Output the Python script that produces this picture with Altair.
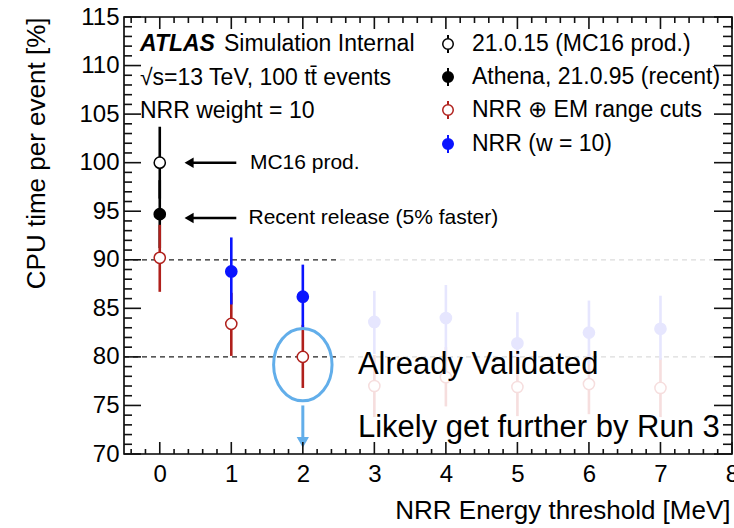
import altair as alt
import pandas as pd

FONT = "Liberation Sans"

# ---- data ----
thresholds = [0, 1, 2, 3, 4, 5, 6, 7]

mc16_x = [0]
mc16_y = [100.0]
mc16_lo = [96.3]
mc16_hi = [103.7]

recent_x = [0]
recent_y = [94.7]
recent_lo = [91.2]
recent_hi = [98.2]

em_x = thresholds
em_y = [90.2, 83.4, 80.0, 77.0, 77.9, 76.9, 77.2, 76.8]
em_lo = [86.7, 80.1, 76.8, 73.8, 74.9, 73.9, 74.1, 73.8]
em_hi = [93.6, 86.6, 83.3, 80.2, 81.0, 80.0, 80.3, 79.9]

w10_x = [1, 2, 3, 4, 5, 6, 7]
w10_y = [88.8, 86.2, 83.6, 84.0, 81.4, 82.5, 82.9]
w10_lo = [85.4, 83.0, 80.3, 80.6, 78.2, 79.2, 79.7]
w10_hi = [92.3, 89.5, 86.8, 87.4, 84.6, 85.8, 86.3]

validated_max = 2  # points beyond this are shown faded

ref_lines = [90, 80]

X_MIN, X_MAX = -0.5, 8
Y_MIN, Y_MAX = 70, 115

x_ticks_major = [0, 1, 2, 3, 4, 5, 6, 7, 8]
x_ticks_minor = [-0.4, -0.2,
                 0.2, 0.4, 0.6, 0.8, 1.2, 1.4, 1.6, 1.8, 2.2, 2.4, 2.6, 2.8,
                 3.2, 3.4, 3.6, 3.8, 4.2, 4.4, 4.6, 4.8, 5.2, 5.4, 5.6, 5.8,
                 6.2, 6.4, 6.6, 6.8, 7.2, 7.4, 7.6, 7.8]
y_ticks_major = [70, 75, 80, 85, 90, 95, 100, 105, 110, 115]
y_ticks_minor = [71, 72, 73, 74, 76, 77, 78, 79, 81, 82, 83, 84, 86, 87, 88, 89,
                 91, 92, 93, 94, 96, 97, 98, 99, 101, 102, 103, 104, 106, 107, 108, 109,
                 111, 112, 113, 114]

legend_labels = ["21.0.15 (MC16 prod.)", "Athena, 21.0.95 (recent)",
                 "NRR \u2295 EM range cuts", "NRR (w = 10)"]

W, H = 608, 437

xs = alt.Scale(domain=[X_MIN, X_MAX], nice=False, zero=False)
ys = alt.Scale(domain=[Y_MIN, Y_MAX], nice=False, zero=False)

xaxis = alt.Axis(values=x_ticks_major, format="d", title="NRR Energy threshold [MeV]",
                 titleFont=FONT, titleFontSize=26, titleFontWeight="normal", titleColor="black",
                 titleAnchor="end", titleX=W - 2, titleY=64, titleAlign="right", titleBaseline="alphabetic",
                 labelFont=FONT, labelFontSize=24, labelColor="black", labelPadding=8, labelFlush=False,
                 ticks=False, domain=False, grid=False)
yaxis = alt.Axis(values=y_ticks_major, format="d", title="CPU time per event [%]",
                 titleFont=FONT, titleFontSize=26, titleFontWeight="normal", titleColor="black",
                 titleX=-88, titleY=0, titleAngle=-90, titleAlign="right", titleBaseline="middle",
                 labelFont=FONT, labelFontSize=24, labelColor="black", labelPadding=5, labelFlush=False,
                 ticks=False, domain=False, grid=False)


def X(f):
    return alt.X(f, type="quantitative", scale=xs, axis=xaxis)


def Y(f):
    return alt.Y(f, type="quantitative", scale=ys, axis=yaxis)


layers = []

# reference dashed lines
df_dark = pd.DataFrame({"y": ref_lines, "x1": [X_MIN] * 2, "x2": [2.52] * 2})
df_light = pd.DataFrame({"y": ref_lines, "x1": [2.52] * 2, "x2": [X_MAX] * 2})
layers += [
    alt.Chart(df_light).mark_rule(color="#dcdcdc", strokeWidth=1.3, strokeDash=[5, 4]).encode(
        x=X("x1"), x2="x2", y=Y("y")),
    alt.Chart(df_dark).mark_rule(color="#222222", strokeWidth=1.3, strokeDash=[5, 4]).encode(
        x=X("x1"), x2="x2", y=Y("y")),
]


def frame(xv, yv, lo, hi):
    return pd.DataFrame({"x": xv, "y": yv, "lo": lo, "hi": hi})


em_df = frame(em_x, em_y, em_lo, em_hi)
w10_df = frame(w10_x, w10_y, w10_lo, w10_hi)
em_solid = em_df[em_df.x <= validated_max]
em_faded = em_df[em_df.x > validated_max]
w10_solid = w10_df[w10_df.x <= validated_max]
w10_faded = w10_df[w10_df.x > validated_max]
mc16_df = frame(mc16_x, mc16_y, mc16_lo, mc16_hi)
recent_df = frame(recent_x, recent_y, recent_lo, recent_hi)

RED = "#b0201c"
BLUE = "#0a14ff"
FRED = "#f6dede"
FBLUE = "#e6e6fe"


def err(df, color):
    return alt.Chart(df).mark_rule(color=color, strokeWidth=2.6).encode(x=X("x"), y=Y("lo"), y2="hi")


def pts(df, fill, stroke):
    return alt.Chart(df).mark_point(shape="circle", filled=True, fill=fill, stroke=stroke,
                                    strokeWidth=1.5, size=125, opacity=1).encode(x=X("x"), y=Y("y"))


# faded (not yet validated) points
layers += [err(em_faded, FRED), err(w10_faded, FBLUE),
           pts(em_faded, "white", FRED), pts(w10_faded, FBLUE, FBLUE)]

# annotation texts (drawn over faded points)
ann_df = pd.DataFrame({"x": [2.77, 2.77], "y": [78.2, 71.8],
                       "t": ["Already Validated", "Likely get further by Run 3"]})
layers.append(alt.Chart(ann_df).mark_text(font=FONT, fontSize=31, align="left", baseline="alphabetic",
                                          color="black").encode(x=X("x"), y=Y("y"), text="t:N"))

# main error bars
layers += [err(mc16_df, "black"), err(recent_df, "black"), err(em_solid, RED), err(w10_solid, BLUE)]
# main markers
layers += [pts(mc16_df, "white", "black"), pts(recent_df, "black", "black"),
           pts(em_solid, "white", RED), pts(w10_solid, BLUE, BLUE)]

# arrows pointing to MC16 / recent release
arrow_df = pd.DataFrame({"y": [100.0, 94.3], "x1": [0.45, 0.45], "x2": [1.07, 1.07],
                         "xh": [0.41, 0.41],
                         "t": ["MC16 prod.", "Recent release (5% faster)"], "xt": [1.26, 1.24]})
layers += [
    alt.Chart(arrow_df).mark_rule(color="black", strokeWidth=2.5).encode(x=X("x1"), x2="x2", y=Y("y")),
    alt.Chart(arrow_df).mark_point(shape="triangle-left", filled=True, color="black", size=110,
                                   opacity=1).encode(x=X("xh"), y=Y("y")),
    alt.Chart(arrow_df).mark_text(font=FONT, fontSize=21, align="left", baseline="middle",
                                  color="black").encode(x=X("xt"), y=Y("y"), text="t:N"),
]

# highlight ellipse and downward arrow at 2 MeV
LBLUE = "#62aeea"
ell_df = pd.DataFrame({"x": [2.0], "y": [79.2]})
layers.append(alt.Chart(ell_df).mark_point(
    shape="M-0.807,0A0.807,1,0,1,0,0.807,0A0.807,1,0,1,0,-0.807,0Z",
    filled=False, stroke=LBLUE, strokeWidth=3, size=5242, opacity=1).encode(x=X("x"), y=Y("y")))
darr_df = pd.DataFrame({"x": [2.0], "y1": [75.0], "y2": [71.6], "yh": [71.2]})
layers += [
    alt.Chart(darr_df).mark_rule(color=LBLUE, strokeWidth=3).encode(x=X("x"), y=Y("y1"), y2="y2"),
    alt.Chart(darr_df).mark_point(shape="triangle-down", filled=True, color=LBLUE, size=150,
                                  opacity=1).encode(x=X("x"), y=Y("yh")),
]

# frame ticks (inward, ROOT style), as short rules from the frame edge
LEFT_MAJ, LEFT_MIN = 17 / W * (X_MAX - X_MIN), 8 / W * (X_MAX - X_MIN)
RIGHT_MAJ, RIGHT_MIN = 18 / W * (X_MAX - X_MIN), 9 / W * (X_MAX - X_MIN)
BOT_MAJ, BOT_MIN = 12 / H * (Y_MAX - Y_MIN), 5 / H * (Y_MAX - Y_MIN)
TOP_MAJ, TOP_MIN = 12 / H * (Y_MAX - Y_MIN), 6 / H * (Y_MAX - Y_MIN)

TICK_COLOR = "#111111"


def yticks(vals, a, b):
    df = pd.DataFrame({"tv": vals, "ta": [a] * len(vals), "tb": [b] * len(vals)})
    return alt.Chart(df).mark_rule(color=TICK_COLOR, strokeWidth=1.6).encode(x=X("ta"), x2="tb", y=Y("tv"))


def xticks(vals, a, b):
    df = pd.DataFrame({"tv": vals, "ta": [a] * len(vals), "tb": [b] * len(vals)})
    return alt.Chart(df).mark_rule(color=TICK_COLOR, strokeWidth=1.6).encode(x=X("tv"), y=Y("ta"), y2="tb")


layers += [
    yticks(y_ticks_major, X_MIN, X_MIN + LEFT_MAJ), yticks(y_ticks_minor, X_MIN, X_MIN + LEFT_MIN),
    yticks(y_ticks_major, X_MAX - RIGHT_MAJ, X_MAX), yticks(y_ticks_minor, X_MAX - RIGHT_MIN, X_MAX),
    xticks(x_ticks_major, Y_MIN, Y_MIN + BOT_MAJ), xticks(x_ticks_minor, Y_MIN, Y_MIN + BOT_MIN),
    xticks(x_ticks_major, Y_MAX - TOP_MAJ, Y_MAX), xticks(x_ticks_minor, Y_MAX - TOP_MIN, Y_MAX),
]

# ATLAS label block (pixel positions in the plot frame)
one = pd.DataFrame({"a": [0]})
label_rows = [("ATLAS", 16, 34, "bold", "italic"),
              ("Simulation Internal", 100, 34, "normal", "normal"),
              ("\u221as=13 TeV, 100 t\u0074\u0304 events", 16, 68, "normal", "normal"),
              ("NRR weight = 10", 16, 101, "normal", "normal")]
for txt, px, py, fw, fs in label_rows:
    layers.append(alt.Chart(one).mark_text(text=txt, font=FONT, fontSize=23, fontWeight=fw, fontStyle=fs,
                                           align="left", baseline="alphabetic", color="black").encode(
        x=alt.value(px), y=alt.value(py)))

# legend
leg_y = [27, 60, 93, 127]
leg_fill = ["white", "black", "white", BLUE]
leg_stroke = ["black", "black", RED, BLUE]
for lab, ly, fc, sc in zip(legend_labels, leg_y, leg_fill, leg_stroke):
    layers.append(alt.Chart(one).mark_rule(color=sc, strokeWidth=2).encode(
        x=alt.value(324), y=alt.value(ly - 9), y2=alt.value(ly + 9)))
    layers.append(alt.Chart(one).mark_point(shape="circle", filled=True, fill=fc, stroke=sc, strokeWidth=1.5,
                                            size=110, opacity=1).encode(x=alt.value(324), y=alt.value(ly)))
    layers.append(alt.Chart(one).mark_text(text=lab, font=FONT, fontSize=23, align="left", baseline="middle",
                                           color="black").encode(x=alt.value(348), y=alt.value(ly)))

chart = alt.layer(*layers).properties(
    width=W, height=H,
    padding={"left": 124, "top": 17, "right": 2, "bottom": 74},
    autosize=alt.AutoSizeParams(type="none"),
    background="white",
).configure_view(stroke="black", strokeWidth=1.6)

chart.save("out.html", embed_options={"renderer": "svg", "actions": False})
